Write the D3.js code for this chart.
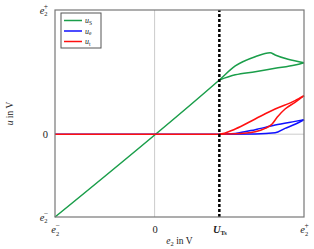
<!DOCTYPE html>
<html>
<head>
<meta charset="utf-8">
<script src="https://cdn.jsdelivr.net/npm/d3@7"></script>
<style>
  body { margin: 0; background: #fff; }
  text { font-family: 'Liberation Serif', 'DejaVu Serif', serif; }
</style>
</head>
<body>
<div class="vis-container"></div>
<script>
// hysteresis loops, [e2, u] pairs
const uTs = 0.65;
const uS = [[-1, -1], [0.65, 0.655], [0.81, 0.824], [1.01, 0.936], [1.16, 0.984], [1.21, 0.957],
  [1.34, 0.905], [1.5, 0.864], [1.41, 0.836], [1.21, 0.796], [1.01, 0.755], [0.81, 0.717], [0.65, 0.655]];
const uE = [[-1, 0], [0.65, 0], [0.81, 0.01], [1.01, 0.055], [1.21, 0.11], [1.41, 0.155], [1.5, 0.175],
  [1.41, 0.12], [1.31, 0.071], [1.21, 0.018], [1.01, 0.003], [0.65, 0]];
const uT = [[-1, 0], [0.65, 0], [0.81, 0.063], [1.01, 0.184], [1.21, 0.304], [1.41, 0.405], [1.5, 0.465],
  [1.41, 0.385], [1.31, 0.304], [1.23, 0.204], [1.18, 0.123], [1.11, 0.07], [1.01, 0.03], [0.81, 0.004], [0.65, 0]];

const xTicks = [-1, 0, uTs, 1.5];
const yTicks = [-1, 0, 1.5];

const legendNames = ['S', 'e', 't'];
const colors = ['#1a9e4a', '#1010ff', '#ff1010'];

const width = 314, height = 249;
const margin = { top: 10, right: 10, bottom: 32, left: 55 };

const svg = d3.select('.vis-container').append('svg')
  .attr('width', width).attr('height', height);

const x = d3.scaleLinear().domain([-1, 1.5]).range([margin.left, width - margin.right]);
const y = d3.scaleLinear().domain([-1, 1.5]).range([height - margin.bottom, margin.top]);

// zero lines
svg.append('line')
  .attr('x1', x(0)).attr('x2', x(0)).attr('y1', y(-1)).attr('y2', y(1.5))
  .attr('stroke', '#ccc').attr('stroke-width', 1);
svg.append('line')
  .attr('x1', x(-1)).attr('x2', x(1.5)).attr('y1', y(0)).attr('y2', y(0))
  .attr('stroke', '#ccc').attr('stroke-width', 1);

const line = d3.line().curve(d3.curveMonotoneX).x((d) => x(d[0])).y((d) => y(d[1]));

// split each loop at its right end: rising branch and returning branch
[uS, uE, uT].forEach((s, i) => {
  const turn = d3.maxIndex(s, (d) => d[0]);
  const branches = [s.slice(0, turn + 1), s.slice(turn).reverse()];
  branches.forEach((b) => {
    svg.append('path')
      .datum(b)
      .attr('fill', 'none')
      .attr('stroke', colors[i])
      .attr('stroke-width', 1.5)
      .attr('stroke-linejoin', 'round')
      .attr('d', line);
  });
});

// threshold
svg.append('line')
  .attr('x1', x(uTs)).attr('x2', x(uTs)).attr('y1', y(-1)).attr('y2', y(1.5))
  .attr('stroke', '#000').attr('stroke-width', 2.5).attr('stroke-dasharray', '3,2');

// frame
svg.append('rect')
  .attr('x', x(-1)).attr('y', y(1.5))
  .attr('width', x(1.5) - x(-1)).attr('height', y(-1) - y(1.5))
  .attr('fill', 'none').attr('stroke', '#777').attr('stroke-width', 1.2);

function eLabel(t, sign) {
  t.append('tspan').attr('font-style', 'italic').text('e');
  t.append('tspan').attr('font-size', 6.5).attr('dy', 2.5).text('2');
  t.append('tspan').attr('font-size', 7.5).attr('dx', -3.8).attr('dy', -7.5).text(sign);
}

function tickText(t, d) {
  if (d === -1) eLabel(t, '−');
  else if (d === 1.5) eLabel(t, '+');
  else if (d === 0) t.text('0');
  else {
    t.append('tspan').attr('font-style', 'italic').attr('font-weight', 'bold').text('U');
    t.append('tspan').attr('font-size', 6.5).attr('font-weight', 'bold').attr('dy', 2).text('Ts');
  }
}

const xAxis = svg.append('g')
  .attr('transform', `translate(0,${y(-1)})`)
  .call(d3.axisBottom(x).tickValues(xTicks).tickSize(0).tickPadding(9))
  .call((g) => g.select('.domain').remove());
xAxis.selectAll('.tick text')
  .attr('fill', '#222').attr('font-size', 10.5)
  .text('')
  .each(function (d) { tickText(d3.select(this), d); });

const yAxis = svg.append('g')
  .attr('transform', `translate(${x(-1)},0)`)
  .call(d3.axisLeft(y).tickValues(yTicks).tickSize(0).tickPadding(7))
  .call((g) => g.select('.domain').remove());
yAxis.selectAll('.tick text')
  .attr('fill', '#222').attr('font-size', 10.5)
  .text('')
  .each(function (d) { tickText(d3.select(this), d); });

// axis titles
const xt = svg.append('text')
  .attr('x', (x(-1) + x(1.5)) / 2).attr('y', 244)
  .attr('text-anchor', 'middle').attr('font-size', 9.5).attr('fill', '#222');
xt.append('tspan').attr('font-style', 'italic').text('e');
xt.append('tspan').attr('font-size', 6.5).attr('dy', 2).text('2');
xt.append('tspan').attr('dy', -2).text(' in V');

svg.append('text')
  .attr('transform', `translate(13,${(y(-1) + y(1.5)) / 2}) rotate(-90)`)
  .attr('text-anchor', 'middle').attr('font-size', 9.5).attr('fill', '#222')
  .call((t) => {
    t.append('tspan').attr('font-style', 'italic').text('u');
    t.append('tspan').text(' in V');
  });

// legend
const lg = svg.append('g').attr('transform', `translate(${x(-1) + 6},${y(1.5) + 3})`);
lg.append('rect')
  .attr('width', 40).attr('height', 35)
  .attr('fill', '#fff').attr('stroke', '#555').attr('stroke-width', 1);
legendNames.forEach((n, i) => {
  const yy = 7.5 + i * 10.5;
  lg.append('line')
    .attr('x1', 3).attr('x2', 21).attr('y1', yy).attr('y2', yy)
    .attr('stroke', colors[i]).attr('stroke-width', 1.5);
  const t = lg.append('text')
    .attr('x', 24).attr('y', yy + 2.5).attr('font-size', 8).attr('fill', '#222');
  t.append('tspan').attr('font-style', 'italic').text('u');
  t.append('tspan').attr('font-size', 5.5).attr('dy', 1.5).text(n);
});
</script>
</body>
</html>
